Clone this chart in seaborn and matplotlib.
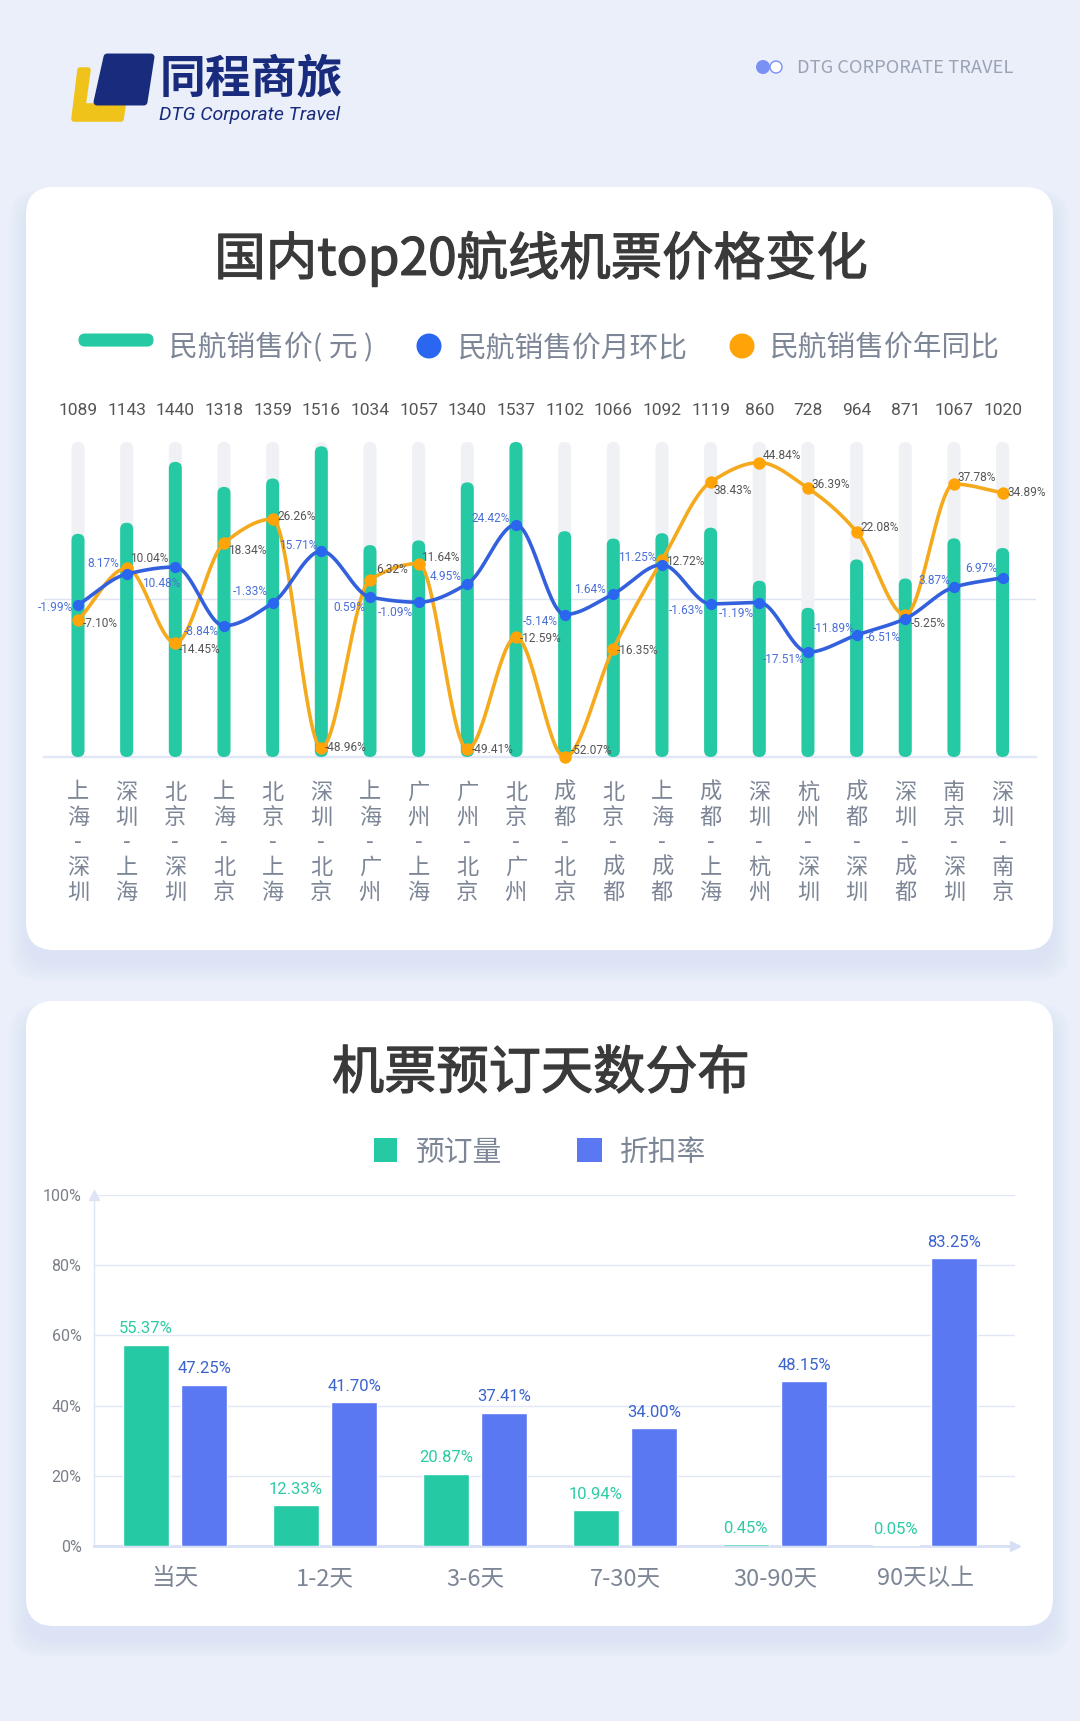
import numpy as np
import pandas as pd
import matplotlib
matplotlib.use('Agg')
import matplotlib.pyplot as plt
import matplotlib.patheffects as pe
import seaborn as sns
from matplotlib.patches import FancyBboxPatch, Polygon, Circle, Rectangle

# chart 1 data
routes = ['上海-深圳', '深圳-上海', '北京-深圳', '上海-北京', '北京-上海', '深圳-北京', '上海-广州',
          '广州-上海', '广州-北京', '北京-广州', '成都-北京', '北京-成都', '上海-成都', '成都-上海',
          '深圳-杭州', '杭州-深圳', '成都-深圳', '深圳-成都', '南京-深圳', '深圳-南京']
price = [1089, 1143, 1440, 1318, 1359, 1516, 1034, 1057, 1340, 1537,
         1102, 1066, 1092, 1119, 860, 728, 964, 871, 1067, 1020]
mom = [-1.99, 8.17, 10.48, -8.84, -1.33, 15.71, 0.59, -1.09, 4.95, 24.42,
       -5.14, 1.64, 11.25, -1.63, -1.19, -17.51, -11.89, -6.51, 3.87, 6.97]
yoy = [-7.10, 10.04, -14.45, 18.34, 26.26, -48.96, 6.32, 11.64, -49.41, -12.59,
       -52.07, -16.35, 12.72, 38.43, 44.84, 36.39, 22.08, -5.25, 37.78, 34.89]

# chart 2 data
days = ['当天', '1-2天', '3-6天', '7-30天', '30-90天', '90天以上']
booking_bars = [57.4, 11.6, 20.6, 10.2, 0.5, 0.2]
discount_bars = [46.0, 41.0, 38.0, 33.5, 47.0, 82.0]
booking_labels = ['55.37%', '12.33%', '20.87%', '10.94%', '0.45%', '0.05%']
discount_labels = ['47.25%', '41.70%', '37.41%', '34.00%', '48.15%', '83.25%']

# label offsets in pixels (dx, dy down)
mom_off = [(-23, 3), (-23, -11), (-14, 16), (-23, 6), (-22, -11), (-23, -6), (-21, 10), (-23, 10), (-22, -7), (-25, -6),
           (-24, 7), (-23, -4), (-25, -7), (-24, 7), (-23, 11), (-24, 7), (-23, -7), (-22, 19), (-20, -7), (-21, -9)]
yoy_off = [(22, 3), (23, -10), (24, 7), (23, 7), (24, -3), (24, 0), (22, -10), (22, -6), (25, 0), (25, 1),
           (27, -7), (24, 2), (23, 1), (22, 8), (23, -7), (23, -4), (23, -4), (23, 9), (23, -7), (24, 0)]

GREEN = '#25C9A3'
TRACK = '#EFF1F4'
BLUE_LINE = '#3360DC'
BLUE_DOT = '#2B66F0'
ORANGE_LINE = '#F5AA1E'
ORANGE_DOT = '#FFA408'
BAR_BLUE = '#5B78F3'
DARK = '#3A3A3A'
GREY = '#7D8696'
RULE = '#E1E7F6'

W, H = 1080, 1721
sns.set_theme(style='white')
plt.rcParams['font.family'] = ['Noto Sans CJK SC', 'DejaVu Sans']
NUM_FONT = ['Roboto', 'DejaVu Sans']
px = 72 / 100  # points per pixel
# regular weight thickened a little, titles sit between regular and bold
semi_bold = [pe.withStroke(linewidth=0.9, foreground=DARK)]


def smooth(xv, yv, n=30):
    # monotone cubic through the values, the curve the chart tool draws
    xv = np.asarray(xv, float)
    yv = np.asarray(yv, float)
    d = np.diff(yv)
    m = np.zeros(len(yv))
    m[0], m[-1] = d[0], d[-1]
    for i in range(1, len(yv) - 1):
        if d[i - 1] * d[i] > 0:
            m[i] = 2 * d[i - 1] * d[i] / (d[i - 1] + d[i])
    xs, ys = [], []
    for i in range(len(d)):
        t = np.linspace(0, 1, n, endpoint=False)
        h00 = 2 * t**3 - 3 * t**2 + 1
        h10 = t**3 - 2 * t**2 + t
        h01 = -2 * t**3 + 3 * t**2
        h11 = t**3 - t**2
        xs.extend(xv[i] + t)
        ys.extend(h00 * yv[i] + h10 * m[i] + h01 * yv[i + 1] + h11 * m[i + 1])
    xs.append(xv[-1])
    ys.append(yv[-1])
    return pd.DataFrame({'x': xs, 'y': ys})


def axes_px(left, top, right, bottom):
    return fig.add_axes([left / W, 1 - bottom / H, (right - left) / W, (bottom - top) / H])


def round_bars(ax, container, color, z, xpp, ypp):
    # capsule shape for thin bars, same geometry as the seaborn bars
    for bar in container:
        ax.add_patch(FancyBboxPatch((bar.get_x(), bar.get_y()), bar.get_width(), bar.get_height(),
                                    boxstyle='round,pad=0,rounding_size=%f' % (bar.get_width() / 2),
                                    mutation_aspect=ypp / xpp, fc=color, ec='none', zorder=z, clip_on=False))
        bar.set_visible(False)


fig = plt.figure(figsize=(W / 100, H / 100), dpi=100, facecolor='#EAEFFA')

#####################
# page background
#####################
bg = fig.add_axes([0, 0, 1, 1])
bg.set_xlim(0, W)
bg.set_ylim(H, 0)
bg.axis('off')

for top, bottom in [(187, 950), (1001, 1626)]:
    for i in range(12):
        bg.add_patch(FancyBboxPatch((26 - i * 1.5, top + 14 - i), 1027 + i * 3, bottom - top + i * 2.5,
                                    boxstyle='round,pad=0,rounding_size=30',
                                    fc='#C9D6F5', ec='none', alpha=0.035))
    bg.add_patch(FancyBboxPatch((26, top), 1027, bottom - top, boxstyle='round,pad=0,rounding_size=28',
                                fc='white', ec='none'))

# logo
bg.add_patch(Polygon([(80, 70), (88, 70), (83, 106), (123, 106), (121, 119), (74, 119)],
                     closed=True, fc='#EFC31A', ec='#EFC31A', lw=4, joinstyle='round'))
bg.add_patch(Polygon([(107, 57), (151, 57), (144, 102), (97, 102)],
                     closed=True, fc='#182B7C', ec='#182B7C', lw=5, joinstyle='round'))
bg.text(251, 80, '同程商旅', color='#182B7C', fontsize=33, fontweight='bold', ha='center', va='center')
bg.text(250, 115, 'DTG Corporate Travel', color='#182B7C', fontsize=14, style='italic',
        family=['Roboto', 'DejaVu Sans'], ha='center', va='center')
bg.add_patch(Circle((776, 67), 6, fc='white', ec='#7B90F5', lw=1))
bg.add_patch(Circle((763, 67), 7, fc='#7B90F5', ec='none'))
bg.text(797, 68, 'DTG CORPORATE TRAVEL', color='#9AA3B5', fontsize=13.2, ha='left', va='center')

# card titles and legends
bg.text(541, 259, '国内top20航线机票价格变化', color=DARK, fontsize=37, ha='center', va='center', path_effects=semi_bold)
bg.add_patch(FancyBboxPatch((85, 340), 62, 0.1, boxstyle='round,pad=6.5', fc=GREEN, ec='none'))
bg.text(169, 348, '民航销售价( 元 )', color=GREY, fontsize=20.7, ha='left', va='center')
bg.add_patch(Circle((429, 346), 12.5, fc=BLUE_DOT, ec='none'))
bg.text(458, 348, '民航销售价月环比', color=GREY, fontsize=20.7, ha='left', va='center')
bg.add_patch(Circle((742, 346), 12.5, fc=ORANGE_DOT, ec='none'))
bg.text(770, 348, '民航销售价年同比', color=GREY, fontsize=20.7, ha='left', va='center')

bg.text(541, 1074, '机票预订天数分布', color=DARK, fontsize=37.6, ha='center', va='center', path_effects=semi_bold)
bg.add_patch(Rectangle((374, 1138), 23, 24, fc=GREEN, ec='none'))
bg.text(416, 1153, '预订量', color=GREY, fontsize=20.7, ha='left', va='center')
bg.add_patch(Rectangle((577, 1138), 25, 24, fc=BAR_BLUE, ec='none'))
bg.text(620, 1153, '折扣率', color=GREY, fontsize=20.7, ha='left', va='center')

#####################
# chart 1: price bars and two curves
#####################
left, right = 44, 1036
x_unit = (1002.6 - 78) / 19
ax1 = axes_px(left, 442, right, 757)
ax1.patch.set_alpha(0)
top_price = max(price)
ylim_pct = (-52, 51.6)

df1 = pd.DataFrame({'route': routes, 'price': price, 'mom': mom, 'yoy': yoy, 'pos': range(len(routes))})
df1['track'] = top_price
sns.barplot(data=df1, x='route', y='track', color=TRACK, saturation=1, width=13 / x_unit, ax=ax1, zorder=2)
sns.barplot(data=df1, x='route', y='price', color=GREEN, saturation=1, width=13 / x_unit, ax=ax1, zorder=3)
ax1.set_xlim((left - 78) / x_unit, (right - 78) / x_unit)
ax1.set_ylim(0, top_price)
round_bars(ax1, ax1.containers[0], TRACK, 2, 1 / x_unit, top_price / 315)
round_bars(ax1, ax1.containers[1], GREEN, 3, 1 / x_unit, top_price / 315)

zero_at = top_price * (0 - ylim_pct[0]) / (ylim_pct[1] - ylim_pct[0])
ax1.axhline(zero_at, color='#DDE3F3', lw=1, zorder=1)
ax1.axhline(0, color=RULE, lw=2 * px * 1.2, zorder=1, clip_on=False)
ax1.set_xlabel('')
ax1.set_ylabel('')
ax1.set_yticks([])
ax1.set_xticks(range(len(routes)))
ax1.set_xticklabels(['\n'.join(r) for r in routes], color=GREY, fontsize=16, linespacing=1.12)
ax1.tick_params(axis='x', length=0, pad=17)
sns.despine(ax=ax1, left=True, bottom=True)

for i, v in enumerate(price):
    ax1.text(i, top_price * 1.1015, str(v), color='#555555', fontsize=12.5, family=NUM_FONT, ha='center', va='center')

ax1r = ax1.twinx()
ax1r.patch.set_alpha(0)
ax1r.set_xlim(ax1.get_xlim())
ax1r.set_ylim(*ylim_pct)
sm_yoy = smooth(df1.pos, df1.yoy)
sm_mom = smooth(df1.pos, df1.mom)
sns.lineplot(data=sm_yoy, x='x', y='y', sort=False, estimator=None, color=ORANGE_LINE, lw=3.6 * px, ax=ax1r, zorder=4)
sns.scatterplot(data=df1, x='pos', y='yoy', color=ORANGE_DOT, s=80, linewidth=0, clip_on=False, ax=ax1r, zorder=5)
sns.lineplot(data=sm_mom, x='x', y='y', sort=False, estimator=None, color=BLUE_LINE, lw=3.6 * px, ax=ax1r, zorder=6)
sns.scatterplot(data=df1, x='pos', y='mom', color=BLUE_DOT, s=66, linewidth=0, clip_on=False, ax=ax1r, zorder=7)
ax1r.axis('off')

for i in range(len(routes)):
    dx, dy = mom_off[i]
    ax1r.annotate('%.2f%%' % mom[i], (i, mom[i]), xytext=(dx * px, -dy * px), textcoords='offset points',
                  color='#4A6FD8', fontsize=8.6, family=NUM_FONT, ha='center', va='center', zorder=8)
    dx, dy = yoy_off[i]
    ax1r.annotate('%.2f%%' % yoy[i], (i, yoy[i]), xytext=(dx * px, -dy * px), textcoords='offset points',
                  color='#555555', fontsize=8.6, family=NUM_FONT, ha='center', va='center', zorder=8)

#####################
# chart 2: booking days
#####################
ax2 = axes_px(94, 1195, 1015, 1546)
ax2.patch.set_alpha(0)
df2 = pd.DataFrame({'days': days * 2,
                    'value': booking_bars + discount_bars,
                    'series': ['预订量'] * len(days) + ['折扣率'] * len(days)})
sns.barplot(data=df2, x='days', y='value', hue='series', palette=[GREEN, BAR_BLUE], saturation=1,
            width=0.78, gap=0.22, legend=False, ax=ax2, zorder=3)
ax2.set_xlim((94 - 175) / 150, (1015 - 175) / 150)
ax2.set_ylim(0, 100)
ax2.set_yticks(range(0, 101, 20))
ax2.set_yticklabels(['%d%%' % v for v in range(0, 101, 20)], fontsize=11.5, color='#7A7F88', family=NUM_FONT)
ax2.tick_params(axis='y', length=0, pad=9)
ax2.tick_params(axis='x', length=0, pad=15, labelsize=17, labelcolor=GREY)
ax2.set_xlabel('')
ax2.set_ylabel('')
ax2.yaxis.grid(True, color=RULE, lw=1)
ax2.set_axisbelow(True)
sns.despine(ax=ax2, top=True, right=True)
ax2.spines['left'].set_color('#DCE4F6')
ax2.spines['left'].set_linewidth(1)
ax2.spines['bottom'].set_color('#D8E0F5')
ax2.spines['bottom'].set_linewidth(2)
ax2.plot(1, 0, '>', color='#D8E0F5', ms=7, transform=ax2.transAxes, clip_on=False)
ax2.plot(0, 1, '^', color='#DCE4F6', ms=7, transform=ax2.transAxes, clip_on=False)

ax2.bar_label(ax2.containers[0], labels=booking_labels, padding=6, color='#2CCBA5', fontsize=12, family=NUM_FONT)
ax2.bar_label(ax2.containers[1], labels=discount_labels, padding=6, color='#3B63CE', fontsize=12, family=NUM_FONT)

fig.savefig('out.png', dpi=100, facecolor=fig.get_facecolor())
